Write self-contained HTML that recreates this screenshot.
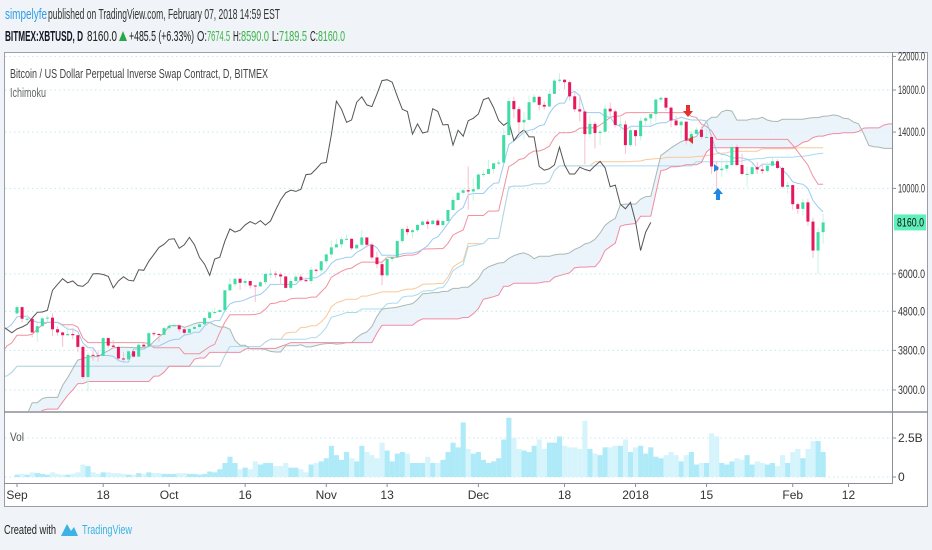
<!DOCTYPE html>
<html><head><meta charset="utf-8"><style>
html,body{margin:0;padding:0;background:#f0f3f7;}
svg{display:block;font-family:"Liberation Sans",sans-serif;}
</style></head><body>
<svg id="c" width="932" height="550" viewBox="0 0 932 550">
<rect x="0" y="0" width="932" height="550" fill="#f0f3f7"/>
<g>
<text x="5" y="19" font-size="15" fill="#2f9ee4" textLength="42" lengthAdjust="spacingAndGlyphs">simpelyfe</text>
<text x="48" y="19" font-size="15" fill="#333" textLength="232" lengthAdjust="spacingAndGlyphs">published on TradingView.com, February 07, 2018 14:59 EST</text>
</g>
<g font-size="15">
<text x="5" y="41" fill="#131722" font-weight="bold" textLength="78" lengthAdjust="spacingAndGlyphs">BITMEX:XBTUSD, D</text>
<text x="87" y="41" fill="#222" textLength="30" lengthAdjust="spacingAndGlyphs">8160.0</text>
<polygon points="119,41 127,41 123,31" fill="#28a745"/>
<text x="129" y="41" fill="#222" textLength="65" lengthAdjust="spacingAndGlyphs">+485.5 (+6.33%)</text>
<text x="197" y="41" fill="#222" textLength="10" lengthAdjust="spacingAndGlyphs">O:</text>
<text x="207" y="41" fill="#3cb44b" textLength="23" lengthAdjust="spacingAndGlyphs">7674.5</text>
<text x="233" y="41" fill="#222" textLength="8" lengthAdjust="spacingAndGlyphs">H:</text>
<text x="241" y="41" fill="#3cb44b" textLength="28" lengthAdjust="spacingAndGlyphs">8590.0</text>
<text x="272" y="41" fill="#222" textLength="7" lengthAdjust="spacingAndGlyphs">L:</text>
<text x="279" y="41" fill="#3cb44b" textLength="28" lengthAdjust="spacingAndGlyphs">7189.5</text>
<text x="310" y="41" fill="#222" textLength="8" lengthAdjust="spacingAndGlyphs">C:</text>
<text x="318" y="41" fill="#3cb44b" textLength="27" lengthAdjust="spacingAndGlyphs">8160.0</text>
</g>
<rect x="4.5" y="52.5" width="923" height="454" fill="#fff" stroke="#9a9ea6"/>
<g id="grid"></g>
<g id="price"></g>
<g id="vol"></g>
<line x1="4" y1="412" x2="928" y2="412" stroke="#8a8e96" stroke-width="1.5"/>
<line x1="892.5" y1="52" x2="892.5" y2="483" stroke="#8a8e96"/>
<line x1="4" y1="483.5" x2="893" y2="483.5" stroke="#8a8e96"/>
<g id="axes"></g>
<text x="10" y="78" font-size="13" fill="#444" textLength="258" lengthAdjust="spacingAndGlyphs">Bitcoin / US Dollar Perpetual Inverse Swap Contract, D, BITMEX</text>
<text x="10" y="97" font-size="13" fill="#666" textLength="36" lengthAdjust="spacingAndGlyphs">Ichimoku</text>
<text x="10" y="441" font-size="12" fill="#555" textLength="14" lengthAdjust="spacingAndGlyphs">Vol</text>
<g>
<text x="4" y="534" font-size="13" fill="#222" textLength="52" lengthAdjust="spacingAndGlyphs">Created with</text>
<path d="M61,536 L67,524 L71,531 L74,527 L78,536 Z" fill="#3bb3e4"/>
<text x="82" y="534" font-size="13" fill="#3bb3e4" textLength="50" lengthAdjust="spacingAndGlyphs">TradingView</text>
</g>
</svg>
<script>
// daily closes from Jul 1 2017 (index 0) to Feb 7 2018
const closesJul = [2480,2530,2570,2600,2610,2510,2560,2500,2420,2330,2360,2380,2350,2230,1930,1930,2230,2300,2280,2840,2680,2810,2740,2740,2560,2530,2680,2800,2730,2740,2880];
const closesAug = [2720,2710,2800,2880,3240,3210,3380,3420,3340,3380,3650,3880,4070,4300,4150,4380,4290,4100,4190,4080,4000,4090,4150,4310,4360,4350,4340,4370,4580,4590,4740];
const closesSep = [4920,4590,4590,4230,4390,4600,4620,4310,4230,4160,4190,4160,3880,3240,3700,3690,3680,4090,3910,3880,3620,3600,3780,3660,3930,3890,4210,4190,4170,4340];
const closesOct = [4400,4410,4310,4220,4320,4370,4440,4610,4770,4780,4830,5440,5640,5830,5690,5750,5600,5570,5710,6000,6010,5980,5910,5520,5750,5900,5780,5750,6150,6130,6470];
const closesNov = [6740,7030,7160,7380,7400,6990,7140,7460,7140,6620,6360,5950,6560,6630,7300,7850,7700,7790,8040,8200,8080,8250,8030,8230,8790,9330,9740,9890,9820,9950];
const closesDec = [10860,10900,11230,11620,11670,13750,16850,16050,14840,15060,16730,17280,16470,16300,17590,19040,19140,18860,17330,16040,15830,13830,14700,13920,14030,16100,15840,14610,14650,12950,14160];
const closesJan = [13660,14980,15200,15600,17000,17180,16200,15000,14580,14900,13300,13850,14200,13600,13600,11400,11150,11250,11500,12800,11500,10900,10900,11350,11200,11100,11450,11760,11300,10100,10200];
const closesFeb = [9100,8850,9200,8200,6900,7700,8160];
// highs / lows from Sep 1
const highs = [4980,4940,4710,4590,4470,4650,4680,4740,4390,4250,4390,4350,4170,3920,3760,3840,3800,4110,4100,4040,3890,3760,3800,3790,3970,3980,4240,4250,4210,4370,
4470,4470,4430,4350,4360,4420,4470,4630,4800,4900,4870,5450,5850,5850,5830,5800,5760,5600,5750,6060,6190,6100,6050,5920,5820,5990,6000,5880,6270,6190,6480,
6780,7330,7410,7490,7600,7420,7180,7800,7450,7220,6850,6420,6750,6710,7330,7910,7980,7860,8080,8290,8320,8300,8350,8300,8800,9520,9780,9990,11400,10640,
10930,11140,11850,11630,11870,14330,17170,17300,16300,15800,17400,17580,17400,16800,17900,19250,19900,19200,19020,17800,17400,15900,15450,14900,14200,16500,16700,16000,15300,15000,14470,
13900,15300,15400,15800,17100,17300,17100,16300,15400,15000,14900,14100,14400,14500,14300,13850,11800,12000,11900,13000,13000,12300,11400,11600,11700,11600,11700,12000,11900,11400,10400,
10200,9200,9400,9400,8400,7900,8590];
const lows = [4700,4480,4460,4110,4000,4390,4500,4140,4150,3880,4130,4060,3760,3200,2980,3570,3550,3680,3850,3850,3580,3550,3570,3640,3660,3860,3890,4130,4000,4160,
4290,4380,4240,4180,4180,4300,4340,4430,4570,4700,4760,4820,5400,5560,5450,5560,5500,5080,5550,5630,5840,5860,5620,5500,5450,5700,5730,5710,5650,6050,6070,
6370,6600,7040,7010,7320,6900,6960,7060,7020,6530,6210,5610,5880,6450,6630,7210,7560,7430,7690,7990,7850,8060,8000,8000,8200,8770,9320,9650,8800,9300,
9910,10700,10900,10920,11500,11680,13730,15200,13850,13400,15400,16700,15950,16000,16700,17600,18800,18100,16900,15800,14900,11550,13500,12700,12950,14000,15400,14400,14100,12300,12800,
12900,13300,14600,14600,14900,16700,15900,14400,14500,13400,13000,12800,13800,13400,13500,10900,9500,10700,11000,11400,11400,10800,10100,10800,10900,10900,11000,11500,11200,10000,9700,
8800,8600,8500,8000,6600,6000,7190];
// volume (billions) from Sep 1
const volumes = [0.15,0.2,0.15,0.3,0.25,0.2,0.15,0.3,0.2,0.15,0.15,0.2,0.3,0.8,0.7,0.3,0.2,0.3,0.3,0.25,0.25,0.2,0.15,0.15,0.25,0.2,0.3,0.25,0.25,0.2,
0.2,0.2,0.25,0.25,0.2,0.2,0.15,0.2,0.35,0.3,0.5,0.9,1.3,0.9,0.5,0.6,0.5,1.0,0.8,0.9,0.9,0.7,0.7,0.9,0.6,0.6,0.5,0.3,0.8,0.9,1.0,
1.2,2.0,1.4,1.1,1.6,1.2,1.0,2.0,1.6,1.4,1.2,2.2,1.7,1.0,1.5,1.6,1.5,0.9,0.9,0.9,1.3,0.9,0.9,1.1,1.6,2.2,1.9,3.5,1.8,1.5,
1.6,1.1,0.9,1.0,1.2,2.4,3.8,2.5,1.8,1.7,1.6,2.0,2.4,1.8,2.2,2.2,2.6,2.0,1.9,1.9,1.8,3.6,1.8,1.5,1.4,1.9,1.9,2.0,2.0,2.4,1.6,
1.9,2.0,1.5,1.9,1.3,1.2,1.4,1.6,1.4,1.0,1.4,1.6,0.8,0.9,0.9,2.8,2.6,0.9,0.8,1.0,1.2,1.1,1.4,0.8,1.0,0.9,0.8,0.9,0.7,1.4,0.9,
1.6,1.8,1.2,1.8,2.3,2.3,1.6];
const priceTicks = [22000,18000,14000,10000,6000,4800,3800,3000];
const volTicks = [2.5,0];
const volTickLabels = ["2.5B","0"];
const timeTickDays = [0,17,30,45,61,73,91,108,122,136,153,164];
const timeTickLabels = ["Sep","18","Oct","16","Nov","13","Dec","18","2018","15","Feb","12"];
const lastPrice = 8160;

const NS="http://www.w3.org/2000/svg";
const closes=[].concat(closesJul,closesAug,closesSep,closesOct,closesNov,closesDec,closesJan,closesFeb);
const OFF=62;
const N=closes.length;
const hiAll=closes.map((c,i)=>i<OFF?c:highs[i-OFF]);
const loAll=closes.map((c,i)=>i<OFF?c:lows[i-OFF]);
const X=d=>17+d*5.07;
const Y=p=>90+(Math.log(18000)-Math.log(p))*167.4;
const VY=v=>477-v*15.6;
function mk(tag,attrs,parent){const e=document.createElementNS(NS,tag);for(const k in attrs)e.setAttribute(k,attrs[k]);parent.appendChild(e);return e;}
const svg=document.getElementById('c');
const defs=mk('defs',{},svg);
const cp=mk('clipPath',{id:'pc'},defs);mk('rect',{x:5,y:53,width:887,height:358},cp);
const cv=mk('clipPath',{id:'vc'},defs);mk('rect',{x:5,y:413,width:887,height:70},cv);

const grid=document.getElementById('grid'), axes=document.getElementById('axes');
priceTicks.forEach(p=>{
  const y=Y(p);
  const g=mk('line',{x1:5,x2:892,y1:y,y2:y,stroke:'#bfe9ee','stroke-dasharray':'1.5,3'},grid);
  
  
  const t=mk('line',{x1:892,x2:896,y1:y,y2:y,stroke:'#8a8e96'},axes);
  
  
  const l=mk('text',{x:898,y:y+4,'font-size':12,fill:'#333',textLength:27,lengthAdjust:'spacingAndGlyphs'},axes);
  l.textContent=p.toFixed(1);
  
  
});
volTicks.forEach((v,i)=>{
  const y=VY(v);
  const g=mk('line',{x1:5,x2:892,y1:y,y2:y,stroke:'#bfe9ee','stroke-dasharray':'1.5,3'},grid);
  
  
  const t=mk('line',{x1:892,x2:896,y1:y,y2:y,stroke:'#8a8e96'},axes);
  
  
  const l=mk('text',{x:898,y:y+4,'font-size':12,fill:'#333'},axes);
  l.textContent=volTickLabels[i];
  
  
});
timeTickDays.forEach((d,i)=>{
  const x=X(d);
  const t=mk('line',{x1:x,x2:x,y1:483,y2:487,stroke:'#8a8e96'},axes);
  
  
  const l=mk('text',{x:x,y:499,'font-size':12,fill:'#333','text-anchor':'middle'},axes);
  l.textContent=timeTickLabels[i];
  
  
});
const lb=mk('rect',{x:894,y:Y(lastPrice)-8,width:32,height:16,fill:'#5ff0bb'},axes);


const lt=mk('text',{x:897,y:Y(lastPrice)+4,'font-size':12,fill:'#111',textLength:27,lengthAdjust:'spacingAndGlyphs'},axes);
lt.textContent=lastPrice.toFixed(1);



function mid(i,n){let h=-Infinity,l=Infinity;for(let j=Math.max(0,i-n+1);j<=i;j++){h=Math.max(h,hiAll[j]);l=Math.min(l,loAll[j]);}return (h+l)/2;}
const tenkan=closes.map((c,i)=>mid(i,9));
const kijun=closes.map((c,i)=>mid(i,26));
const spanA=closes.map((c,i)=>(tenkan[i]+kijun[i])/2);
const spanB=closes.map((c,i)=>mid(i,52));
const mid100=closes.map((c,i)=>mid(i,100));
const mid120=closes.map((c,i)=>mid(i,120));
const FWD=30, BACK=34;
const price=document.getElementById('price');
const pg=mk('g',{'clip-path':'url(#pc)'},price);
function pts(arr,shift,from){let s=[];for(let i=from;i<arr.length;i++)s.push(X(i-OFF+shift).toFixed(1)+','+Y(arr[i]).toFixed(1));return s;}
const start=20;
const a=pts(spanA,FWD,start), b=pts(spanB,FWD,start);
const cloud=mk('polygon',{points:a.concat(b.slice().reverse()).join(' '),fill:'#e6f1fa','fill-opacity':0.8},pg);


function line(arr,shift,from,color,name,w){const e=mk('polyline',{points:pts(arr,shift,from).join(' '),fill:'none',stroke:color,'stroke-width':w||1},pg);return e;}
line(mid100,0,30,'#f9c89c','orange-midline');
line(mid120,0,30,'#a9dbf0','long-midline');
line(spanA,FWD,start,'#a9b9b2','senkou-span-a');
line(spanB,FWD,start,'#f08ca2','senkou-span-b');
line(kijun,0,30,'#f0929f','kijun-sen');
line(tenkan,0,30,'#9ccbf0','tenkan-sen');
line(closes,-BACK,30,'#555','chikou-span');
for(let d=0;d<N-OFF;d++){
  const i=d+OFF,o=closes[i-1],c=closes[i],up=c>=o,col=up?'#3fdca4':'#e4185b',x=X(d);
  const w=mk('line',{x1:x,x2:x,y1:Y(highs[d]),y2:Y(lows[d]),stroke:up?'#c9f3e2':'#f7bfd0'},pg);
  
  
  const yt=Y(Math.max(o,c)),yb=Y(Math.min(o,c));
  const r=mk('rect',{x:x-1.5,y:yt,width:3,height:Math.max(1,yb-yt),fill:col},pg);
  
  
}
const ar=[['M686,105 h4 v6 h3 l-5,6 l-5,-6 h3 z','#e4312f','sell-arrow'],['M693,136 v8 l-5,-4 z','#e4312f','sell-marker'],['M714,164 v8 l5,-4 z','#1e88e5','buy-marker'],['M718,188 l5,6 h-3 v6 h-4 v-6 h-3 z','#1e88e5','buy-arrow']];
ar.forEach(s=>{const e=mk('path',{d:s[0],fill:s[1]},pg);});
const vg=mk('g',{'clip-path':'url(#vc)'},document.getElementById('vol'));
for(let d=0;d<volumes.length;d++){
  const i=d+OFF,up=closes[i]>=closes[i-1];
  const y=VY(volumes[d]);
  const r=mk('rect',{x:X(d)-2.5,y:y,width:5.1,height:477-y,fill:up?'#aeeaf8':'#d6f4fb'},vg);
  
  
}
</script>
</body></html>
